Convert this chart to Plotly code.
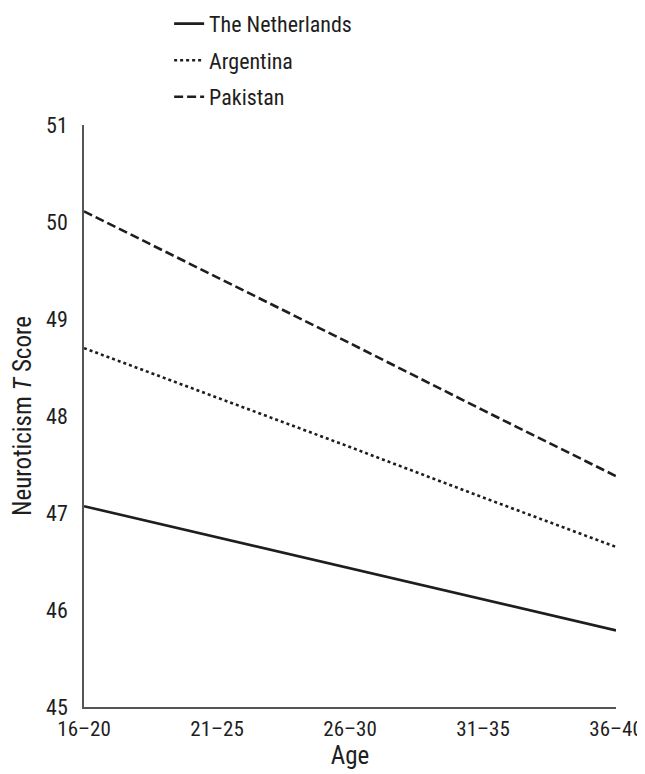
import plotly.graph_objects as go

ages = ["16–20", "21–25", "26–30", "31–35", "36–40"]
netherlands = [47.07, 46.75, 46.43, 46.11, 45.79]
argentina = [48.70, 48.19, 47.68, 47.16, 46.65]
pakistan = [50.11, 49.43, 48.75, 48.06, 47.38]
y_ticks = [45, 46, 47, 48, 49, 50, 51]

FONT = "Liberation Sans Narrow, Roboto Condensed, Arial Narrow, Liberation Sans, sans-serif"
INK = "#1e1e1e"

fig = go.Figure()
fig.add_trace(go.Scatter(x=ages, y=netherlands, mode="lines", name="The Netherlands",
                         legendgroup="a", line=dict(color=INK, width=2.6, dash="solid")))
fig.add_trace(go.Scatter(x=ages, y=argentina, mode="lines", name="Argentina",
                         legendgroup="b", line=dict(color=INK, width=2.6, dash="3px,3px")))
fig.add_trace(go.Scatter(x=ages, y=pakistan, mode="lines", name="Pakistan",
                         legendgroup="c", line=dict(color=INK, width=2.6, dash="9px,4px")))

# the page body adds an 8px margin, so the figure is 8px smaller and shifted
fig.update_layout(
    width=637, height=766,
    margin=dict(l=76, r=29, t=117, b=67, autoexpand=False),
    paper_bgcolor="white", plot_bgcolor="white",
    font=dict(family=FONT, size=22, color=INK),
    showlegend=True,
    legend=dict(x=0.16, xanchor="left", y=1.21, yanchor="top",
                font=dict(family=FONT, size=22, color=INK),
                tracegroupgap=5, traceorder="grouped",
                bgcolor="rgba(0,0,0,0)"),
    xaxis=dict(type="category", range=[0, 4], showgrid=False, zeroline=False,
               showline=True, linecolor="#555555", linewidth=1.5,
               ticks="", ticklabelstandoff=2,
               tickfont=dict(family=FONT, size=21, color=INK),
               title=dict(text="Age", font=dict(family=FONT, size=25, color=INK), standoff=2)),
    yaxis=dict(range=[45, 51], tickvals=y_ticks, showgrid=False, zeroline=False,
               showline=True, linecolor="#555555", linewidth=1.5,
               ticks="", ticklabelstandoff=10,
               tickfont=dict(family=FONT, size=22, color=INK),
               title=dict(text="Neuroticism <i>T</i> Score",
                          font=dict(family=FONT, size=25, color=INK), standoff=8)),
)

fig.write_html("out.html")
